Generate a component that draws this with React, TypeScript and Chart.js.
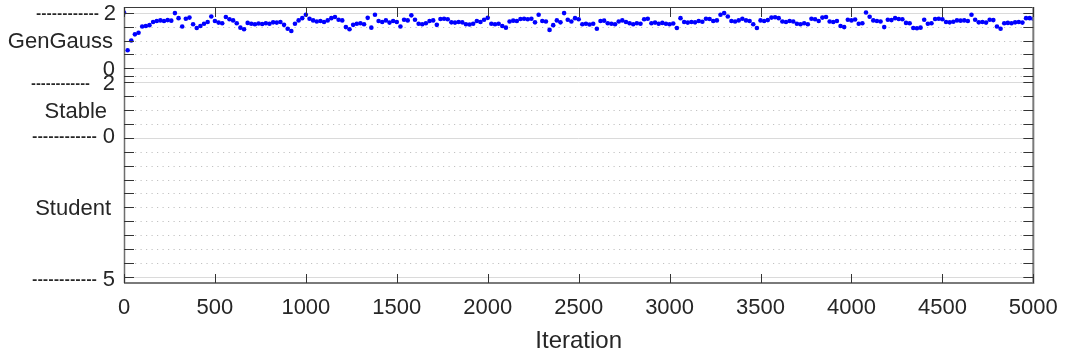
import React, { useEffect, useRef } from "react";
import { Chart, registerables } from "chart.js";

Chart.register(...registerables);

// GenGauss shape parameter, one sample every ITER_STEP iterations (0 .. 5000)
const ITER_STEP = 20;
const genGaussShape: number[] = [
  2.0, 0.65, 1.0, 1.22, 1.28, 1.5, 1.52, 1.55, 1.66, 1.7,
  1.72, 1.7, 1.73, 1.71, 1.98, 1.8, 1.5, 1.78, 1.82, 1.58,
  1.45, 1.52, 1.6, 1.66, 1.86, 1.7, 1.64, 1.62, 1.84, 1.76,
  1.72, 1.62, 1.46, 1.4, 1.63, 1.6, 1.58, 1.61, 1.59, 1.62,
  1.6, 1.65, 1.64, 1.66, 1.56, 1.42, 1.34, 1.6, 1.72, 1.8,
  1.92, 1.78, 1.72, 1.68, 1.7, 1.66, 1.72, 1.8, 1.84, 1.74,
  1.72, 1.48, 1.4, 1.56, 1.6, 1.62, 1.58, 1.81, 1.46, 1.92,
  1.7, 1.66, 1.72, 1.64, 1.7, 1.66, 1.5, 1.74, 1.72, 1.9,
  1.74, 1.6, 1.58, 1.62, 1.7, 1.72, 1.56, 1.77, 1.78, 1.76,
  1.65, 1.64, 1.66, 1.65, 1.58, 1.57, 1.6, 1.7, 1.66, 1.74,
  1.81, 1.6, 1.58, 1.6, 1.52, 1.46, 1.68, 1.71, 1.7, 1.77,
  1.78, 1.76, 1.78, 1.65, 1.92, 1.7, 1.68, 1.38, 1.55, 1.72,
  1.65, 1.98, 1.74, 1.68, 1.8, 1.76, 1.58, 1.6, 1.57, 1.6,
  1.42, 1.7, 1.71, 1.62, 1.6, 1.58, 1.68, 1.72, 1.66, 1.62,
  1.58, 1.62, 1.6, 1.76, 1.78, 1.62, 1.64, 1.6, 1.63, 1.6,
  1.58, 1.61, 1.45, 1.8, 1.66, 1.64, 1.66, 1.65, 1.7, 1.67,
  1.78, 1.77, 1.7, 1.72, 1.92, 1.98, 1.86, 1.7, 1.68, 1.72,
  1.78, 1.72, 1.7, 1.58, 1.45, 1.72, 1.7, 1.73, 1.82, 1.83,
  1.8, 1.68, 1.66, 1.7, 1.68, 1.6, 1.58, 1.62, 1.58, 1.78,
  1.76, 1.7, 1.82, 1.84, 1.68, 1.66, 1.7, 1.52, 1.48, 1.74,
  1.72, 1.75, 1.6, 1.62, 2.0, 1.85, 1.72, 1.7, 1.68, 1.48,
  1.74, 1.73, 1.8, 1.77, 1.76, 1.63, 1.62, 1.45, 1.44, 1.46,
  1.74, 1.6, 1.62, 1.77, 1.78, 1.76, 1.66, 1.65, 1.67, 1.72,
  1.71, 1.72, 1.7, 1.92, 1.74, 1.65, 1.66, 1.64, 1.74, 1.73,
  1.5, 1.42, 1.62, 1.63, 1.62, 1.65, 1.66, 1.64, 1.8, 1.8,
  1.78,
];

const xTickValues = [0, 500, 1000, 1500, 2000, 2500, 3000, 3500, 4000, 4500, 5000];
const xTitle = "Iteration";

// Stacked panels share one vertical coordinate:
// GenGauss 0..2 sits above Stable 0..2, Student 0..5 runs downward from Stable's 0.
const GG_OFFSET = 2.475;
const GAP_LINE = 2.22;
const panelNames = ["GenGauss", "Stable", "Student"];
const panelMiddles = [GG_OFFSET + 1, 1, -2.5];
const yTickLabels = ["------------2", "0", "------------ 2", "------------ 0", "------------ 5"];
const yTickValues = [GG_OFFSET + 2, GG_OFFSET, 2, 0, -5];
const minorValues = [
  GG_OFFSET + 0.5, GG_OFFSET + 1, GG_OFFSET + 1.5,
  GAP_LINE,
  0.5, 1, 1.5,
  -0.5, -1, -1.5, -2, -2.5, -3, -3.5, -4, -4.5,
];

const FONT = "'Liberation Sans', Arial, Helvetica, sans-serif";
const TEXT = "#262626";

// drawing layout for the axis annotations (x in px)
const tickLabelLayout = [
  { dashFrom: 36, dashTo: 99, right: 116, dy: 1.2 },
  { dashFrom: 0, dashTo: 0, right: 115, dy: 1.7 },
  { dashFrom: 31, dashTo: 90, right: 115, dy: 2.6 },
  { dashFrom: 32, dashTo: 97, right: 115, dy: -0.5 },
  { dashFrom: 32, dashTo: 97, right: 115, dy: 2.2 },
];
const panelNameRight = [113, 107, 111];

const axesFrame = {
  id: "axesFrame",
  beforeDatasetsDraw(chart: any) {
    const { ctx, chartArea: a, scales } = chart;
    const y = scales.y;
    ctx.save();
    ctx.lineWidth = 1;
    ctx.strokeStyle = "#c2c2c2";
    ctx.setLineDash([1.2, 4.3]);
    for (const v of minorValues) {
      const py = Math.round(y.getPixelForValue(v)) + 0.5;
      ctx.beginPath();
      ctx.moveTo(a.left, py);
      ctx.lineTo(a.right, py);
      ctx.stroke();
    }
    ctx.setLineDash([]);
    ctx.strokeStyle = "#dadada";
    for (const v of yTickValues) {
      const py = Math.round(y.getPixelForValue(v)) + 0.5;
      ctx.beginPath();
      ctx.moveTo(a.left, py);
      ctx.lineTo(a.right, py);
      ctx.stroke();
    }
    ctx.restore();
  },
  afterDatasetsDraw(chart: any) {
    const { ctx, chartArea: a, scales } = chart;
    const x = scales.x;
    const y = scales.y;
    ctx.save();

    // box
    ctx.strokeStyle = "#3a3a3a";
    ctx.lineWidth = 1;
    ctx.beginPath();
    ctx.moveTo(a.left, a.top + 0.5);
    ctx.lineTo(a.right, a.top + 0.5);
    ctx.stroke();
    ctx.strokeStyle = "#6e6e6e";
    ctx.lineWidth = 1.5;
    ctx.beginPath();
    ctx.moveTo(a.left + 0.5, a.top);
    ctx.lineTo(a.left + 0.5, a.bottom);
    ctx.stroke();
    ctx.strokeStyle = "#7a7a7a";
    ctx.lineWidth = 2;
    ctx.beginPath();
    ctx.moveTo(a.left, a.bottom);
    ctx.lineTo(a.right, a.bottom);
    ctx.moveTo(a.right, a.top);
    ctx.lineTo(a.right, a.bottom + 1);
    ctx.stroke();

    // tick marks
    ctx.strokeStyle = "#333333";
    ctx.lineWidth = 1;
    ctx.beginPath();
    for (const v of [...yTickValues, ...minorValues]) {
      const py = Math.round(y.getPixelForValue(v)) + 0.5;
      ctx.moveTo(a.left, py);
      ctx.lineTo(a.left + 10, py);
      ctx.moveTo(a.right - 10, py);
      ctx.lineTo(a.right, py);
    }
    for (const v of xTickValues) {
      const px = Math.round(x.getPixelForValue(v)) + 0.5;
      ctx.moveTo(px, a.top);
      ctx.lineTo(px, a.top + 10);
      ctx.moveTo(px, a.bottom - 9);
      ctx.lineTo(px, a.bottom);
    }
    ctx.stroke();

    // y tick labels with their separator dashes
    ctx.fillStyle = TEXT;
    ctx.font = `22px ${FONT}`;
    ctx.textBaseline = "middle";
    yTickLabels.forEach((label, i) => {
      const L = tickLabelLayout[i];
      const py = y.getPixelForValue(yTickValues[i]) + L.dy;
      const dashes = label.match(/^-+/);
      const num = label.replace(/^-+\s*/, "");
      ctx.textAlign = "right";
      ctx.fillText(num, L.right, py);
      if (dashes) {
        ctx.textAlign = "left";
        ctx.fillText(dashes[0], L.dashFrom, py, L.dashTo - L.dashFrom);
      }
    });

    // panel names
    ctx.textAlign = "right";
    panelNames.forEach((name, i) => {
      const py = y.getPixelForValue(panelMiddles[i]) + 1.8;
      ctx.fillText(name, panelNameRight[i], py);
    });
    ctx.restore();
  },
};

export default function App() {
  const canvasRef = useRef<HTMLCanvasElement | null>(null);

  useEffect(() => {
    const canvas = canvasRef.current;
    if (!canvas) return;
    const points = genGaussShape.map((g, i) => ({ x: i * ITER_STEP, y: g + GG_OFFSET }));
    const chart = new Chart(canvas, {
      type: "scatter",
      data: {
        datasets: [
          {
            label: panelNames[0],
            data: points,
            backgroundColor: "#0000ff",
            borderColor: "#0000ff",
            pointRadius: 2.3,
            pointBorderWidth: 0,
            showLine: false,
          },
        ],
      },
      options: {
        animation: false,
        responsive: false,
        maintainAspectRatio: false,
        devicePixelRatio: 1,
        layout: { padding: { left: 0, top: 7, right: 33, bottom: 0 } },
        plugins: { legend: { display: false }, tooltip: { enabled: false } },
        scales: {
          x: {
            type: "linear",
            min: 0,
            max: 5000,
            afterBuildTicks: (scale: any) => {
              scale.ticks = xTickValues.map((v) => ({ value: v }));
            },
            afterFit: (scale: any) => {
              scale.height = 75;
            },
            grid: { display: false, drawTicks: false, tickLength: 0 },
            border: { display: false },
            ticks: {
              color: TEXT,
              padding: 12.2,
              maxRotation: 0,
              autoSkip: false,
              font: { family: FONT, size: 22, lineHeight: 1.2 },
              callback: (v: any) => String(v),
            },
            title: {
              display: true,
              text: xTitle,
              color: TEXT,
              font: { family: FONT, size: 24, lineHeight: 1.2 },
              padding: { top: 0, bottom: 2.6 },
            },
          },
          y: {
            type: "linear",
            min: -5.204,
            max: 4.674,
            afterFit: (scale: any) => {
              scale.width = 124;
            },
            grid: { display: false, drawTicks: false },
            border: { display: false },
            ticks: { display: false },
          },
        },
      },
      plugins: [axesFrame],
    });
    return () => chart.destroy();
  }, []);

  return (
    <div style={{ position: "absolute", left: 0, top: 0, width: 1070, height: 358, background: "#ffffff" }}>
      <canvas ref={canvasRef} width={1070} height={358} style={{ display: "block" }} />
    </div>
  );
}
